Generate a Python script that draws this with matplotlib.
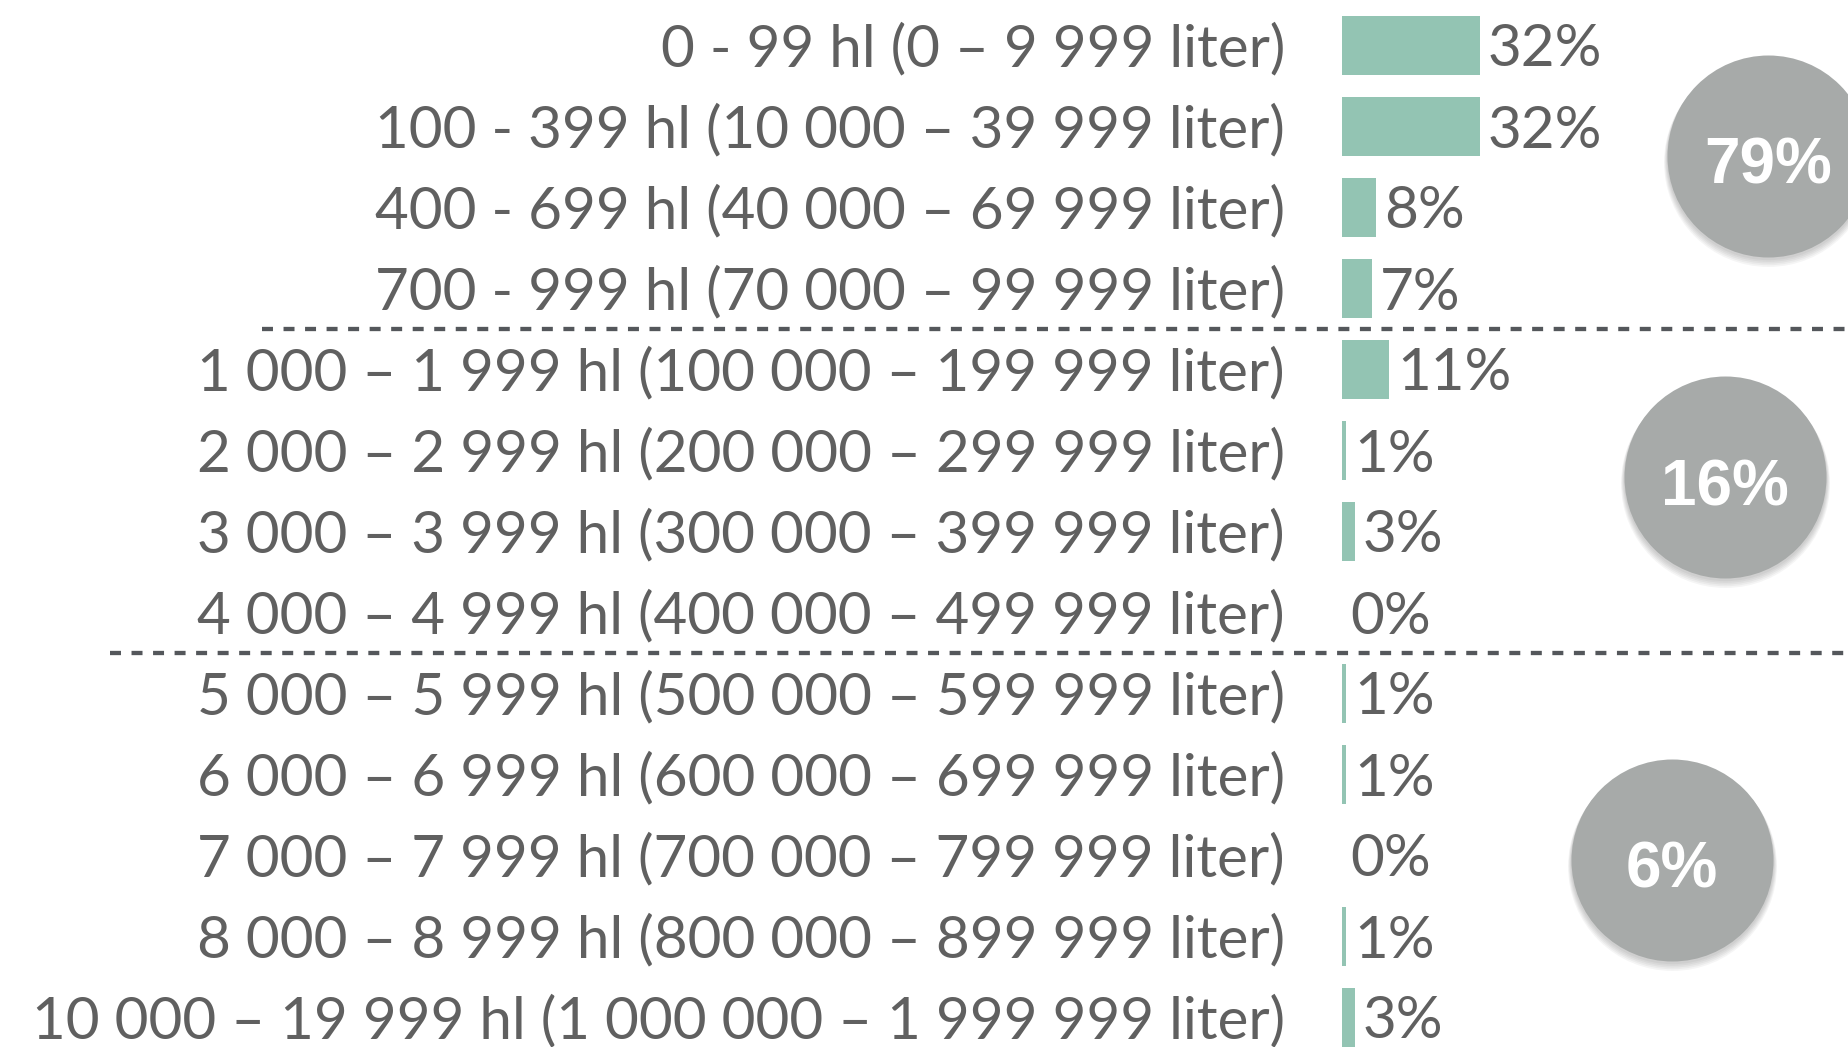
import matplotlib
matplotlib.use("Agg")
import matplotlib.pyplot as plt
from matplotlib import transforms as mtrans

# ---- data ----
categories = [
    "0 - 99 hl (0 – 9 999 liter)",
    "100 - 399 hl (10 000 – 39 999 liter)",
    "400 - 699 hl (40 000 – 69 999 liter)",
    "700 - 999 hl (70 000 – 99 999 liter)",
    "1 000 – 1 999 hl (100 000 – 199 999 liter)",
    "2 000 – 2 999 hl (200 000 – 299 999 liter)",
    "3 000 – 3 999 hl (300 000 – 399 999 liter)",
    "4 000 – 4 999 hl (400 000 – 499 999 liter)",
    "5 000 – 5 999 hl (500 000 – 599 999 liter)",
    "6 000 – 6 999 hl (600 000 – 699 999 liter)",
    "7 000 – 7 999 hl (700 000 – 799 999 liter)",
    "8 000 – 8 999 hl (800 000 – 899 999 liter)",
    "10 000 – 19 999 hl (1 000 000 – 1 999 999 liter)",
]
values = [32, 32, 8, 7, 11, 1, 3, 0, 1, 1, 0, 1, 3]
group_totals = [79, 16, 6]
group_separators = [3.5, 7.5]

# ---- style ----
FONT = "Lato"
TEXT_C = "#606060"
BAR_C = "#93c4b3"
DASH_C = "#54575b"
CIRC_C = "#a7aaa9"

W, H, DPI = 1849, 1047, 100
fig = plt.figure(figsize=(W / DPI, H / DPI), dpi=DPI)
fig.patch.set_facecolor("white")

ax_left_px = 1342
px_per_unit = 4.31
row0_px = 45.5
row_px = 81.0
ax = fig.add_axes([ax_left_px / W, 0, 1 - ax_left_px / W, 1])
ax.set_xlim(0, (W - ax_left_px) / px_per_unit)
ax.set_ylim((H - row0_px) / row_px, -row0_px / row_px)
ax.axis("off")

ys = list(range(len(values)))
ax.barh(ys, values, height=0.73, color=BAR_C, left=0)

fs = 42
base_off = mtrans.offset_copy(ax.transData, fig=fig, x=0, y=-21, units="dots")
for y, v, lab in zip(ys, values, categories):
    ax.text(-(ax_left_px - 1285) / px_per_unit, y, lab, transform=base_off,
            ha="right", va="baseline", fontsize=fs, color=TEXT_C,
            family=FONT, clip_on=False)
    ax.text(v + 1.8, y, f"{v}%", transform=base_off, ha="left", va="baseline",
            fontsize=fs, color=TEXT_C, family=FONT, clip_on=False)

# dashed separators
blend = mtrans.blended_transform_factory(fig.transFigure, ax.transData)
sep_starts = [262 / W, 110 / W]
for ysep, x0 in zip(group_separators, sep_starts):
    ax.plot([x0, 1.0], [ysep, ysep], transform=blend, color=DASH_C, lw=3.1,
            dashes=(2.55, 2.45), clip_on=False, solid_capstyle="butt",
            dash_capstyle="butt")

# circles
circ_x = [(1768 - ax_left_px) / px_per_unit, (1725 - ax_left_px) / px_per_unit,
          (1672 - ax_left_px) / px_per_unit]
circ_y = [(156 - row0_px) / row_px, (477 - row0_px) / row_px, (860 - row0_px) / row_px]
diam_pt = 202 * 72 / DPI
for k in range(5):
    sh = mtrans.offset_copy(ax.transData, fig=fig, x=0, y=-2 - k, units="dots")
    ax.scatter(circ_x, circ_y, s=(diam_pt + 1 + k) ** 2, color="#000000",
               alpha=0.04, transform=sh, linewidths=0, clip_on=False)
ax.scatter(circ_x, circ_y, s=diam_pt ** 2, color=CIRC_C, linewidths=0,
           clip_on=False, zorder=3)
circ_off = mtrans.offset_copy(ax.transData, fig=fig, x=0, y=-28, units="dots")
for cx, cy, t in zip(circ_x, circ_y, group_totals):
    ax.text(cx, cy, f"{t}%", transform=circ_off, ha="center", va="baseline",
            fontsize=46, color="white", fontweight="bold",
            family="Liberation Sans", zorder=4, clip_on=False)

fig.savefig("out.png", dpi=DPI)
